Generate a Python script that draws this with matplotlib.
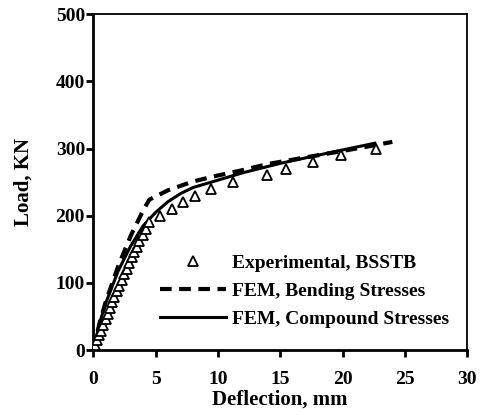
import matplotlib
matplotlib.use("Agg")
import matplotlib.pyplot as plt

plt.rcParams['font.family'] = ['Liberation Serif', 'DejaVu Serif']
plt.rcParams['font.weight'] = 'bold'

# experimental points (deflection mm, load kN)
exp_defl = [0, 0.1, 0.3, 0.45, 0.6, 0.8, 1.0, 1.15, 1.3, 1.5, 1.7, 1.9, 2.1, 2.3,
            2.5, 2.7, 2.9, 3.1, 3.3, 3.5, 3.7, 3.95, 4.2, 4.45, 5.35, 6.3, 7.2,
            8.2, 9.45, 11.2, 13.9, 15.5, 17.6, 19.9, 22.7]
exp_load = [0, 7, 15, 22, 29, 37, 46, 54, 63, 71, 79, 88, 96, 105,
            113, 121, 129, 138, 146, 154, 162, 171, 180, 190, 200, 210, 220,
            230, 240, 250, 260, 270, 280, 290, 300]

# FEM, bending stresses
bend_defl = [0, 0.5, 1, 2, 3, 4, 4.5, 6, 8, 10, 12, 14, 18, 22, 24]
bend_load = [0, 40, 72, 125, 170, 208, 224, 238, 251, 260, 268, 277, 290, 303, 310]

# FEM, compound stresses
comp_defl = [0, 0.5, 1, 2, 3, 4, 5, 6, 7, 8, 10, 12, 15, 18, 20, 22.6]
comp_load = [0, 40, 70, 118, 155, 185, 205, 221, 233, 242, 253, 264, 278, 290, 298, 308]

fig = plt.figure(figsize=(4.82, 4.15), dpi=100)
ax = fig.add_axes([0.1936, 0.1566, 0.7755, 0.8089])

ax.plot(exp_defl, exp_load, linestyle='None', marker='^', markersize=6.5,
        markerfacecolor='white', markeredgecolor='black', markeredgewidth=1.3,
        label='Experimental, BSSTB', zorder=3)
ax.plot(bend_defl, bend_load, color='black', linewidth=3, dashes=(2.8, 1.8),
        label='FEM, Bending Stresses')
ax.plot(comp_defl, comp_load, color='black', linewidth=2.2,
        label='FEM, Compound Stresses')

ax.set_xlim(0, 30)
ax.set_ylim(0, 500)
ax.set_xticks([0, 5, 10, 15, 20, 25, 30])
ax.set_yticks([0, 100, 200, 300, 400, 500])

for side in ['left', 'bottom']:
    ax.spines[side].set_linewidth(2)
for side in ['top', 'right']:
    ax.spines[side].set_linewidth(1.3)

ax.tick_params(axis='both', direction='out', width=2, length=5, labelsize=14)
ax.tick_params(axis='x', pad=10)
ax.tick_params(axis='y', pad=1)
for lab in ax.get_xticklabels() + ax.get_yticklabels():
    lab.set_fontweight('bold')

ax.set_xlabel('Deflection, mm', fontsize=15, fontweight='bold', labelpad=1)
ax.set_ylabel('Load, KN', fontsize=15, fontweight='bold', labelpad=16)

ax.legend(loc='upper left', bbox_to_anchor=(0.178, 0.285), frameon=False,
          prop={'size': 14, 'weight': 'bold'}, handlelength=3.4,
          handletextpad=0.3, labelspacing=0.53, borderpad=0, borderaxespad=0)

fig.savefig('out.png', dpi=100)
